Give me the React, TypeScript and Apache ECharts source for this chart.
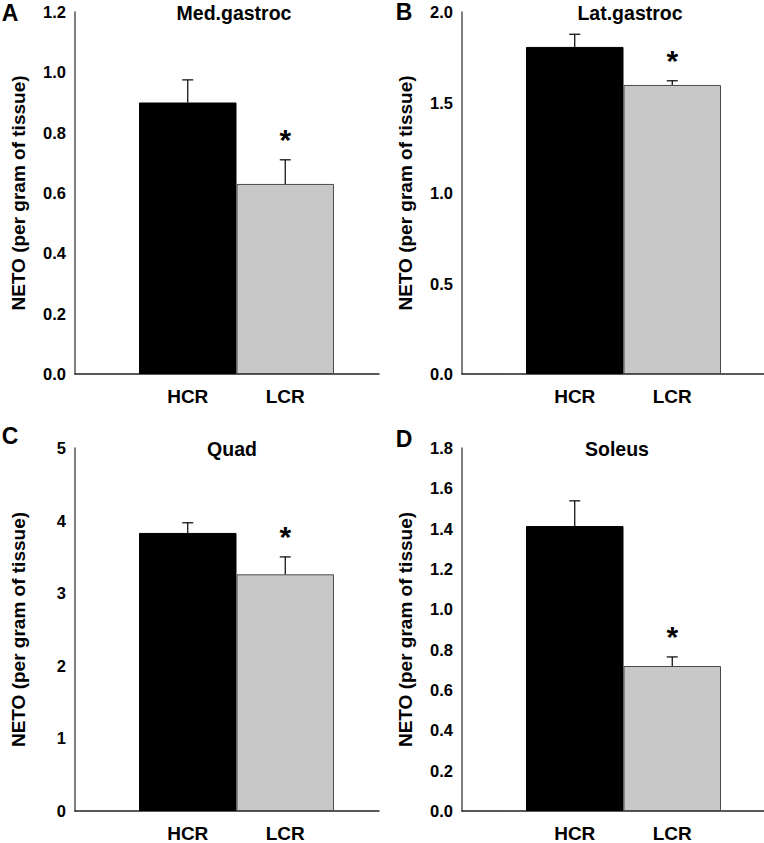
import React, { useEffect, useRef } from "react";
import * as echarts from "echarts";

const categories = ["HCR", "LCR"];
const panelLetters = ["A", "B", "C", "D"];
const panelTitles = ["Med.gastroc", "Lat.gastroc", "Quad", "Soleus"];
const yAxisName = "NETO (per gram of tissue)";

const medGastrocMean = [0.9, 0.63];
const medGastrocErr = [0.075, 0.08];
const latGastrocMean = [1.807, 1.597];
const latGastrocErr = [0.07, 0.023];
const quadMean = [3.83, 3.26];
const quadErr = [0.14, 0.24];
const soleusMean = [1.413, 0.719];
const soleusErr = [0.125, 0.045];
const significant = [false, true];

const yMaxes = [1.2, 2.0, 5, 1.8];
const yIntervals = [0.2, 0.5, 1, 0.2];
const yDecimals = [1, 1, 0, 1];

const means = [medGastrocMean, latGastrocMean, quadMean, soleusMean];
const errs = [medGastrocErr, latGastrocErr, quadErr, soleusErr];

const FONT = "'Liberation Sans', Arial, Helvetica, sans-serif";

// layout (pixels)
const frames = [
  { left: 75, top: 12, width: 304, height: 362 },
  { left: 462, top: 12, width: 302, height: 362 },
  { left: 75, top: 448, width: 304, height: 363 },
  { left: 462, top: 448, width: 302, height: 363 },
];
const barOffset = 64;
const barGroupWidth = 195;
const letterPos = [
  [10, 13],
  [404, 12],
  [10, 436],
  [404, 439],
];
const titleOffsetX = [159, 168, 157, 155];

export default function App() {
  const ref = useRef<HTMLDivElement>(null);
  useEffect(() => {
    document.body.style.margin = "0";
    const chart = echarts.init(ref.current!, null, { renderer: "svg" });
    const grid: any[] = [];
    const xAxis: any[] = [];
    const yAxis: any[] = [];
    const series: any[] = [];
    const graphic: any[] = [];

    frames.forEach((f, p) => {
      grid.push({ left: f.left, top: f.top, width: f.width, height: f.height, outerBoundsMode: "none" });
      grid.push({ left: f.left + barOffset, top: f.top, width: barGroupWidth, height: f.height, outerBoundsMode: "none" });
      const fg = p * 2;
      const bg = p * 2 + 1;
      xAxis.push({
        gridIndex: fg,
        type: "value",
        min: 0,
        max: 1,
        axisLine: { show: true, onZero: false, lineStyle: { color: "#222", width: 1.5 } },
        axisTick: { show: false },
        axisLabel: { show: false },
        splitLine: { show: false },
      });
      yAxis.push({
        gridIndex: fg,
        type: "value",
        min: 0,
        max: yMaxes[p],
        interval: yIntervals[p],
        name: yAxisName,
        nameLocation: "middle",
        nameGap: 47,
        nameTextStyle: { fontFamily: FONT, fontWeight: "bold", fontSize: 19, color: "#000" },
        axisLine: { show: true, lineStyle: { color: "#555", width: 1.5 } },
        axisTick: { show: false },
        splitLine: { show: false },
        axisLabel: {
          fontFamily: FONT,
          fontWeight: "bold",
          fontSize: 16.5,
          color: "#000",
          margin: 9,
          formatter: (v: number) => v.toFixed(yDecimals[p]),
        },
      });
      xAxis.push({
        gridIndex: bg,
        type: "category",
        data: categories,
        axisLine: { show: false },
        axisTick: { show: false },
        axisLabel: { fontFamily: FONT, fontWeight: "bold", fontSize: 19, color: "#000", margin: 13 },
      });
      yAxis.push({
        gridIndex: bg,
        type: "value",
        min: 0,
        max: yMaxes[p],
        interval: yIntervals[p],
        show: false,
      });
      const axisIdx = p * 2 + 1;
      series.push({
        type: "bar",
        xAxisIndex: axisIdx,
        yAxisIndex: axisIdx,
        barCategoryGap: "0%",
        data: means[p].map((v, i) => ({
          value: v,
          itemStyle:
            i === 0
              ? { color: "#000", borderColor: "#000", borderWidth: 1 }
              : { color: "#c8c8c8", borderColor: "#4a4a4a", borderWidth: 1 },
        })),
      });
      series.push({
        type: "custom",
        xAxisIndex: axisIdx,
        yAxisIndex: axisIdx,
        z: 5,
        data: means[p].map((v, i) => [i, v, errs[p][i], significant[i] ? 1 : 0]),
        renderItem: (params: any, api: any) => {
          const x = api.value(0);
          const v = api.value(1);
          const e = api.value(2);
          const sig = api.value(3);
          const base = api.coord([x, v]);
          const top = api.coord([x, v + e]);
          const children: any[] = [
            {
              type: "line",
              shape: { x1: base[0], y1: base[1], x2: top[0], y2: top[1] },
              style: { stroke: "#000", lineWidth: 1.2 },
            },
            {
              type: "line",
              shape: { x1: top[0] - 5.5, y1: top[1], x2: top[0] + 5.5, y2: top[1] },
              style: { stroke: "#000", lineWidth: 1.2 },
            },
          ];
          if (sig) {
            children.push({
              type: "text",
              x: top[0],
              y: top[1] - 5,
              style: {
                text: "*",
                font: `bold 30px ${FONT}`,
                fill: "#000",
                align: "center",
                verticalAlign: "bottom",
              },
            });
          }
          return { type: "group", children };
        },
      });
      graphic.push({
        type: "text",
        x: letterPos[p][0],
        y: letterPos[p][1],
        style: {
          text: panelLetters[p],
          font: `bold 23px ${FONT}`,
          fill: "#000",
          align: "center",
          verticalAlign: "middle",
        },
      });
      graphic.push({
        type: "text",
        x: f.left + titleOffsetX[p],
        y: f.top + 1,
        style: {
          text: panelTitles[p],
          font: `bold 19.5px ${FONT}`,
          fill: "#000",
          align: "center",
          verticalAlign: "middle",
        },
      });
    });

    chart.setOption({
      animation: false,
      backgroundColor: "#fff",
      grid,
      xAxis,
      yAxis,
      series,
      graphic,
    });
    return () => chart.dispose();
  }, []);
  return <div ref={ref} style={{ width: 764, height: 843 }} />;
}
